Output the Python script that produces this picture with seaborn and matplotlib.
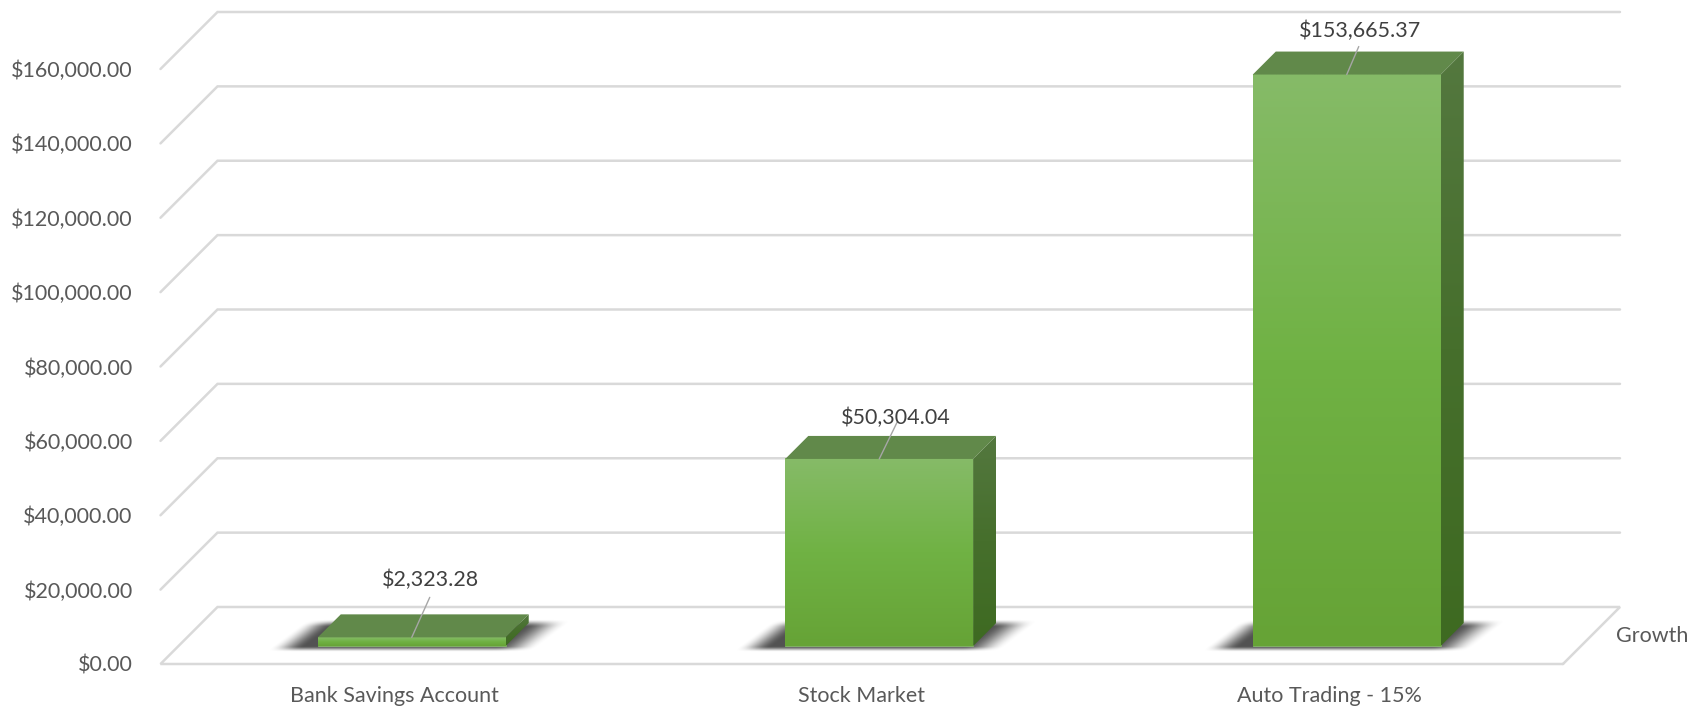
import numpy as np
import pandas as pd
import seaborn as sns
import matplotlib.pyplot as plt
from matplotlib.colors import LinearSegmentedColormap
from matplotlib.patches import Polygon
from matplotlib.transforms import Affine2D, IdentityTransform

categories = ["Bank Savings Account", "Stock Market", "Auto Trading - 15%"]
growth = [2323.28, 50304.04, 153665.37]
y_ticks = [0, 20000, 40000, 60000, 80000, 100000, 120000, 140000, 160000]
series_name = "Growth"

W, H = 1702, 710
WALL = (57, 57)      # depth of the fake 3d box, px
BAR_SHIFT = (17.5, 18)  # bars stand a little way into the floor
BAR_DEPTH = (23, 23)
LABEL_OFFSETS = [(19, 57), (17, 41), (13, 44)]
LEADER_ENDS = [(18, 40), (18, 37), (12, 28)]
FONT_SIZE = 15.5

GRID = "#D9D9D9"
TEXT = "#595959"
LABEL = "#404040"
ID = IdentityTransform()

front_cmap = LinearSegmentedColormap.from_list("front", ["#86BB68", "#70B244", "#66A336"])
side_cmap = LinearSegmentedColormap.from_list("side", ["#54783F", "#466F2C", "#3E6A21"])

sns.set_style("white")
plt.rcParams["font.family"] = ["Lato", "DejaVu Sans"]

fig = plt.figure(figsize=(W / 100, H / 100), dpi=100)
ax = fig.add_axes([160.5 / W, (H - 664) / H, (1563 - 160.5) / W, 595 / H])

df = pd.DataFrame({"category": categories, "growth": growth})
sns.barplot(data=df, x="category", y="growth", width=0.402, color="#70AD47", ax=ax, zorder=2)
ax.set_xlim(-0.5, 2.5)
ax.set_ylim(0, 160000)
ax.set_xlabel("")
ax.set_ylabel("")
ax.set_yticks(y_ticks)
ax.set_yticklabels([f"${v:,.2f}" for v in y_ticks])
ax.tick_params(axis="y", length=0, pad=20, labelsize=FONT_SIZE, labelcolor=TEXT)
ax.tick_params(axis="x", length=0, pad=16, labelsize=FONT_SIZE, labelcolor=TEXT)
sns.despine(ax=ax, left=True, bottom=True)
ax.patch.set_visible(False)

# box: front floor edge, slanted ticks and back wall lines
for v in y_ticks:
    x0, y0 = ax.transData.transform((-0.5, v))
    x1, _ = ax.transData.transform((2.5, v))
    pts = [(x0, y0), (x0 + WALL[0], y0 + WALL[1]), (x1 + WALL[0], y0 + WALL[1])]
    if v == 0:
        pts = [(x1, y0), (x0, y0)] + pts[1:] + [(x1, y0)]
    xs, ys = zip(*pts)
    ax.plot(xs, ys, color=GRID, lw=1.8, transform=ID, clip_on=False, zorder=0.5,
            solid_joinstyle="miter")

x0, y0 = ax.transData.transform((2.5, 0))
ax.text(x0 + 89, y0 + 28, series_name, transform=ID, ha="center", va="center",
        fontsize=FONT_SIZE, color=TEXT)


def smooth(a):
    a = np.clip(a, 0, 1)
    return a * a * (3 - 2 * a)


def gradient(x0, x1, y0, y1, cmap, clip=None, zorder=3):
    ramp = np.linspace(0, 1, 256)[:, None]
    im = ax.imshow(ramp, extent=(x0, x1, y0, y1), cmap=cmap, vmin=0, vmax=1, aspect="auto",
                   transform=ID, clip_on=False, zorder=zorder, interpolation="bilinear")
    if clip is not None:
        im.set_clip_on(True)
        im.set_clip_box(fig.bbox)
        im.set_clip_path(clip)
    return im


def shadow(left, right, base):
    xs = np.arange(left - 70, right + 85)
    ys = np.arange(base - 9, base + 32)
    gx, gy = np.meshgrid(xs + 0.5, ys + 0.5)
    t = (gy - (base - 3)) / 28
    a_left = smooth((gx - (left - 50 + 37 * t)) / 34)
    a_right = smooth(((right + 30 + 37 * t) - gx) / 42)
    a_depth = smooth((gy - (base - 6)) / 6) * smooth(((base + 27) - gy) / 8)
    rgba = np.zeros(gx.shape + (4,))
    rgba[..., 3] = 0.68 * a_left * a_right * a_depth
    ax.imshow(rgba, origin="lower", extent=(xs[0], xs[-1] + 1, ys[0], ys[-1] + 1), aspect="auto",
              transform=ID, clip_on=False, zorder=1, interpolation="bilinear")


bar_trans = ax.transData + Affine2D().translate(*BAR_SHIFT)
for i, bar in enumerate(ax.containers[0]):
    (l, b), (r, t) = bar_trans.transform([(bar.get_x(), 0), (bar.get_x() + bar.get_width(), growth[i])])
    bar.set_transform(bar_trans)
    bar.set_clip_on(False)
    bar.set_edgecolor("#86B86A")
    bar.set_linewidth(0.6)
    dx, dy = BAR_DEPTH

    shadow(l, r, b)

    # front face, top face and side face
    gradient(l, r, b, t, front_cmap)
    ax.add_patch(Polygon([(l, t), (r, t), (r + dx, t + dy), (l + dx, t + dy)], closed=True,
                         facecolor="#61894A", edgecolor="none", transform=ID, clip_on=False, zorder=3))
    side = Polygon([(r, b), (r + dx, b + dy), (r + dx, t + dy), (r, t)], closed=True,
                   facecolor="none", edgecolor="none", transform=ID, clip_on=False)
    ax.add_patch(side)
    gradient(r, r + dx, b, t + dy, side_cmap, clip=side)

    # data label with its leader line
    cx = (l + r) / 2
    ax.plot([cx, cx + LEADER_ENDS[i][0]], [t, t + LEADER_ENDS[i][1]], color="#A6A6A6", lw=1,
            transform=ID, clip_on=False, zorder=4)
    ax.text(cx + LABEL_OFFSETS[i][0], t + LABEL_OFFSETS[i][1], f"${growth[i]:,.2f}", transform=ID,
            ha="center", va="center", fontsize=FONT_SIZE, color=LABEL, zorder=5)

ax.set_xlim(-0.5, 2.5)
ax.set_ylim(0, 160000)
fig.savefig("out.png", dpi=100, facecolor="white")
